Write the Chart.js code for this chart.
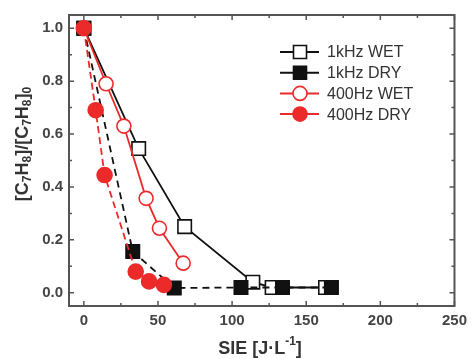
<!DOCTYPE html>
<html lang="en">
<head>
  <meta charset="UTF-8">
  <title>Toluene removal vs SIE</title>
  <script src="https://cdn.jsdelivr.net/npm/chart.js"></script>
  <style>
    html, body { margin: 0; padding: 0; background: #fff; }
    #wrap { width: 473px; height: 359px; }
  </style>
</head>
<body>
  <div id="wrap"><canvas id="chart" width="473" height="359"></canvas></div>
  <script>
    // data
    const sie1kWet = [0, 37, 68, 114, 127, 163];
    const c1kWet = [1.0, 0.545, 0.25, 0.04, 0.02, 0.02];
    const sie1kDry = [0, 33, 61, 106, 134, 167];
    const c1kDry = [1.0, 0.156, 0.018, 0.02, 0.02, 0.02];
    const sie400Wet = [0, 15, 27, 42, 51, 67];
    const c400Wet = [1.0, 0.79, 0.63, 0.357, 0.244, 0.112];
    const sie400Dry = [0, 8, 14, 35, 44, 54];
    const c400Dry = [1.0, 0.69, 0.445, 0.08, 0.043, 0.03];

    const xTicks = [0, 50, 100, 150, 200, 250];
    const yTicks = [0.0, 0.2, 0.4, 0.6, 0.8, 1.0];

    const RED = '#ec2a2a';
    const BLK = '#111111';
    const AXIS = '#555555';
    const FONT = '"Liberation Sans", Arial, sans-serif';

    const pts = (xs, ys) => xs.map((x, i) => ({ x: x, y: ys[i] }));

    const series = [
      { label: '1kHz WET', data: pts(sie1kWet, c1kWet), color: BLK, fill: '#ffffff', style: 'rect', dash: [], radius: 9.5, order: 4 },
      { label: '1kHz DRY', data: pts(sie1kDry, c1kDry), color: BLK, fill: BLK, style: 'rect', dash: [7, 5], radius: 9.5, order: 3 },
      { label: '400Hz WET', data: pts(sie400Wet, c400Wet), color: RED, fill: '#ffffff', style: 'circle', dash: [], radius: 7, order: 2 },
      { label: '400Hz DRY', data: pts(sie400Dry, c400Dry), color: RED, fill: RED, style: 'circle', dash: [7, 4], radius: 7.5, order: 1 }
    ];

    // draws text pieces [text, shift] in a row, shifted ones in a smaller font
    function drawRich(ctx, parts, cx, cy, size) {
      const big = 'bold ' + size + 'px ' + FONT;
      const small = 'bold ' + Math.round(size * 0.68) + 'px ' + FONT;
      let total = 0;
      parts.forEach(p => { ctx.font = p[1] ? small : big; total += ctx.measureText(p[0]).width; });
      let x = cx - total / 2;
      parts.forEach(p => {
        ctx.font = p[1] ? small : big;
        ctx.fillText(p[0], x, cy + p[1]);
        x += ctx.measureText(p[0]).width;
      });
    }

    // frame, inward ticks on all four sides, axis titles, legend
    const frame = {
      id: 'frame',
      afterDraw(chart) {
        const ctx = chart.ctx;
        const a = chart.chartArea;
        const xs = chart.scales.x, ys = chart.scales.y;
        ctx.save();
        ctx.strokeStyle = AXIS;
        ctx.lineWidth = 2;
        ctx.strokeRect(a.left, a.top, a.right - a.left, a.bottom - a.top);
        ctx.lineWidth = 1.5;
        ctx.beginPath();
        for (let v = 0; v <= 250; v += 25) {
          const px = xs.getPixelForValue(v);
          const len = v % 50 === 0 ? 5 : 3;
          ctx.moveTo(px, a.bottom); ctx.lineTo(px, a.bottom - len);
          ctx.moveTo(px, a.top); ctx.lineTo(px, a.top + len);
        }
        for (let i = 0; i <= 10; i++) {
          const py = ys.getPixelForValue(i / 10);
          const len = i % 2 === 0 ? 5 : 3;
          ctx.moveTo(a.left, py); ctx.lineTo(a.left + len, py);
          ctx.moveTo(a.right, py); ctx.lineTo(a.right - len, py);
        }
        ctx.stroke();

        // axis titles
        ctx.fillStyle = '#333';
        ctx.textBaseline = 'middle';
        ctx.textAlign = 'left';
        drawRich(ctx, [['SIE [J·L', 0], ['-1', -7], [']', 0]], 260, 349, 18);
        ctx.save();
        ctx.translate(23, 144);
        ctx.rotate(-Math.PI / 2);
        drawRich(ctx, [['[C', 0], ['7', 5], ['H', 0], ['8', 5], [']/[C', 0], ['7', 5], ['H', 0], ['8', 5], [']', 0], ['0', 5]], 0, 0, 18);
        ctx.restore();

        // legend
        const lx = 280, ly = 52, step = 20.7;
        ctx.font = '16px ' + FONT;
        series.forEach((s, i) => {
          const y = ly + i * step;
          ctx.strokeStyle = s.color;
          ctx.lineWidth = 2;
          ctx.setLineDash([]);
          ctx.beginPath();
          ctx.moveTo(lx, y); ctx.lineTo(lx + 39, y);
          ctx.stroke();
          ctx.fillStyle = s.fill;
          ctx.lineWidth = 1.6;
          ctx.beginPath();
          if (s.style === 'rect') {
            ctx.rect(lx + 20 - 6.5, y - 6.5, 13, 13);
          } else {
            ctx.arc(lx + 20, y, 7, 0, Math.PI * 2);
          }
          ctx.fill();
          ctx.stroke();
          ctx.fillStyle = '#333';
          ctx.fillText(s.label, lx + 47, y + 1);
        });
        ctx.restore();
      }
    };

    new Chart(document.getElementById('chart'), {
      type: 'scatter',
      data: {
        datasets: series.map(s => ({
          label: s.label,
          data: s.data,
          showLine: true,
          borderColor: s.color,
          borderWidth: 1.8,
          borderDash: s.dash,
          pointStyle: s.style,
          pointRadius: s.radius,
          pointBackgroundColor: s.fill,
          pointBorderColor: s.color,
          pointBorderWidth: 1.6,
          order: s.order
        }))
      },
      options: {
        responsive: false,
        animation: false,
        events: [],
        layout: { padding: { top: 14, right: 14, left: 0, bottom: 0 } },
        plugins: { legend: { display: false }, tooltip: { enabled: false } },
        scales: {
          x: {
            type: 'linear',
            min: -10, max: 250,
            afterFit(s) { s.height = 53; },
            grid: { display: false, drawTicks: false },
            border: { display: false },
            ticks: {
              stepSize: 50, includeBounds: false, padding: 6,
              color: '#444', font: { family: FONT, size: 15, weight: 'bold' },
              callback: v => xTicks.includes(v) ? String(v) : ''
            }
          },
          y: {
            type: 'linear',
            min: -0.05, max: 1.05,
            afterFit(s) { s.width = 69; },
            grid: { display: false, drawTicks: false },
            border: { display: false },
            ticks: {
              stepSize: 0.2, includeBounds: false, padding: 6,
              color: '#444', font: { family: FONT, size: 15, weight: 'bold' },
              callback: v => {
                const t = yTicks.find(k => Math.abs(k - v) < 1e-6);
                return t === undefined ? '' : t.toFixed(1);
              }
            }
          }
        }
      },
      plugins: [frame]
    });
  </script>
</body>
</html>
